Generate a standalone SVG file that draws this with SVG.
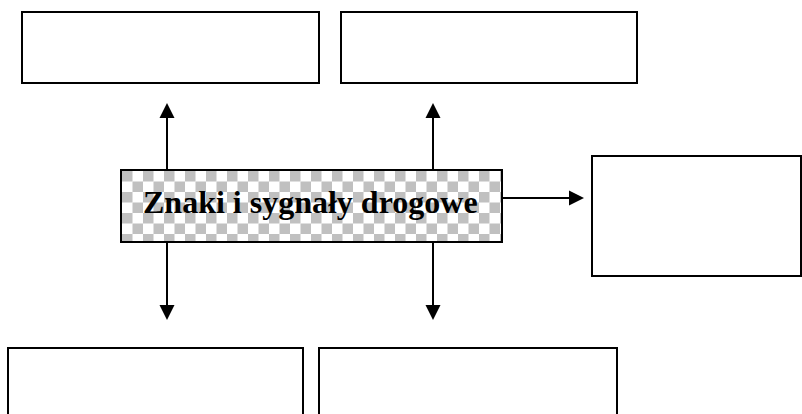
<svg xmlns="http://www.w3.org/2000/svg" width="802" height="414" viewBox="0 0 802 414">
<style>
.box{fill:#fff;stroke:#000;stroke-width:2}
.line{stroke:#000;stroke-width:2;fill:none}
.head{fill:#000}
.label{font-family:"Liberation Serif","Times New Roman",serif;font-weight:bold;font-size:32px;fill:#000}
</style>
<defs>
<pattern id="checker" x="122" y="171" width="21" height="21" patternUnits="userSpaceOnUse">
<rect width="21" height="21" fill="#fff"/>
<rect x="0" y="0" width="10.5" height="10.5" fill="#c0c0c0"/>
<rect x="10.5" y="10.5" width="10.5" height="10.5" fill="#c0c0c0"/>
</pattern>
</defs>
<rect width="802" height="414" fill="#fff"/>
<g id="connectors">
<line class="line" x1="167" y1="170" x2="167" y2="115"/>
<polygon class="head" points="167,103 159.5,118 174.5,118"/>
<line class="line" x1="433" y1="170" x2="433" y2="115"/>
<polygon class="head" points="433,103 425.5,118 440.5,118"/>
<line class="line" x1="167" y1="242" x2="167" y2="308"/>
<polygon class="head" points="167,320 159.5,305 174.5,305"/>
<line class="line" x1="433" y1="242" x2="433" y2="308"/>
<polygon class="head" points="433,320 425.5,305 440.5,305"/>
<line class="line" x1="502" y1="198" x2="572" y2="198"/>
<polygon class="head" points="584,198 569,190.5 569,205.5"/>
</g>
<g id="node-top-left"><rect class="box" x="22" y="12" width="297" height="71"/></g>
<g id="node-top-middle"><rect class="box" x="341" y="12" width="296" height="71"/></g>
<g id="node-right"><rect class="box" x="592" y="156" width="209" height="120"/></g>
<g id="node-bottom-left"><rect class="box" x="8" y="348" width="295" height="80"/></g>
<g id="node-bottom-middle"><rect class="box" x="319" y="348" width="298" height="80"/></g>
<g id="node-center">
<rect x="121" y="170" width="381" height="72" fill="url(#checker)" stroke="#000" stroke-width="2"/>
<text class="label" x="143" y="213">Znaki i sygnały drogowe</text>
</g>
</svg>
